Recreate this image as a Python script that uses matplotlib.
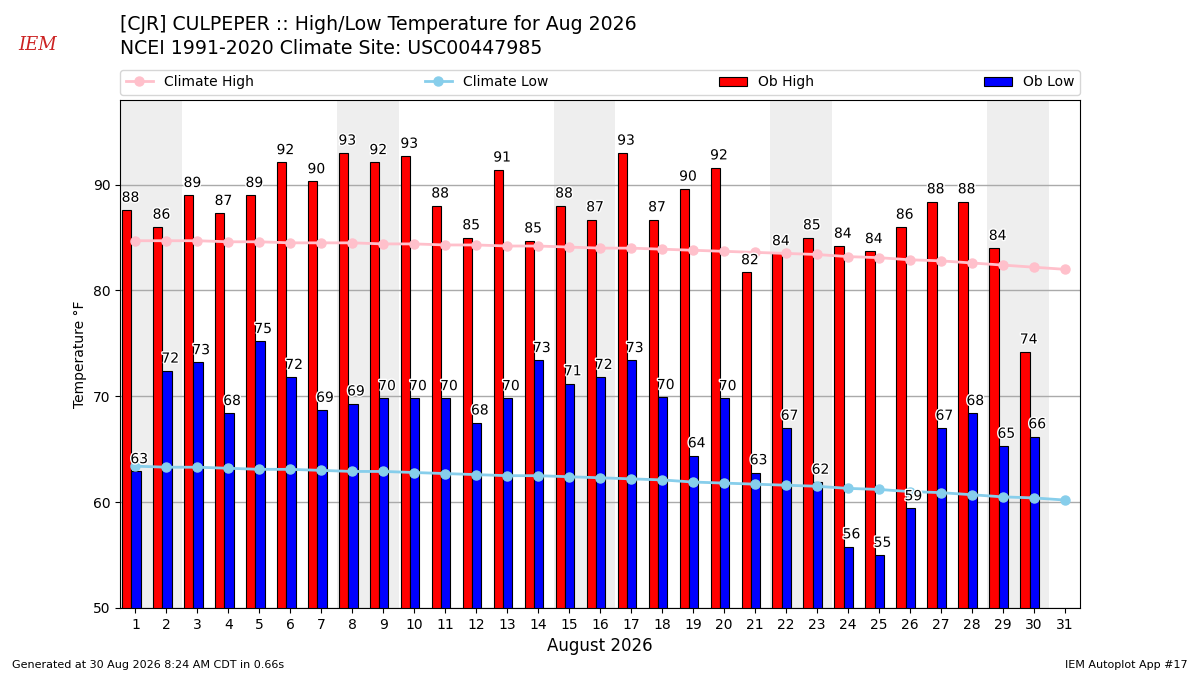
import matplotlib

matplotlib.use("Agg")
import matplotlib.pyplot as plt
import matplotlib.patheffects as pe
import numpy as np

days = np.arange(1, 32)
ob_days = np.arange(1, 31)

ob_high = [87.6, 86.0, 89.0, 87.3, 89.0, 92.1, 90.3, 93.0, 92.1, 92.7,
           88.0, 85.0, 91.4, 84.7, 88.0, 86.7, 93.0, 86.7, 89.6, 91.6,
           81.7, 83.5, 85.0, 84.2, 83.7, 86.0, 88.4, 88.4, 84.0, 74.2]
ob_low = [62.9, 72.4, 73.2, 68.4, 75.2, 71.8, 68.7, 69.3, 69.8, 69.8,
          69.8, 67.5, 69.8, 73.4, 71.2, 71.8, 73.4, 69.9, 64.4, 69.8,
          62.8, 67.0, 61.9, 55.8, 55.0, 59.4, 67.0, 68.4, 65.3, 66.2]
climate_high = [84.7, 84.7, 84.7, 84.6, 84.6, 84.5, 84.5, 84.5, 84.4, 84.4,
                84.3, 84.3, 84.2, 84.2, 84.1, 84.0, 84.0, 83.9, 83.8, 83.7,
                83.6, 83.5, 83.4, 83.2, 83.1, 82.9, 82.8, 82.6, 82.4, 82.2, 82.0]
climate_low = [63.4, 63.3, 63.3, 63.2, 63.1, 63.1, 63.0, 62.9, 62.9, 62.8,
               62.7, 62.6, 62.5, 62.5, 62.4, 62.3, 62.2, 62.1, 61.9, 61.8,
               61.7, 61.6, 61.5, 61.3, 61.2, 61.0, 60.9, 60.7, 60.5, 60.4, 60.2]
saturdays = [1, 8, 15, 22, 29]

fig = plt.figure(figsize=(12, 6.75), dpi=100)
ax = fig.add_axes([0.1, 0.0993, 0.8, 0.7526])

for d in saturdays:
    ax.axvspan(d - 0.5, d + 1.5, color="#EEEEEE", zorder=0, lw=0)

ax.plot(days, climate_high, color="pink", marker="o", ms=6.5, lw=2,
        zorder=3, label="Climate High")
ax.plot(days, climate_low, color="skyblue", marker="o", ms=6.5, lw=2,
        zorder=3, label="Climate Low")

ax.bar(ob_days - 0.43, ob_high, width=0.3, align="edge", color="red",
       edgecolor="black", lw=0.8, zorder=2, label="Ob High")
ax.bar(ob_days - 0.13, ob_low, width=0.3, align="edge", color="blue",
       edgecolor="black", lw=0.8, zorder=2, label="Ob Low")

halo = [pe.withStroke(linewidth=2, foreground="white")]
for d, v in zip(ob_days, ob_high):
    ax.text(d - 0.16, v + 0.5, f"{v:.0f}", ha="center", va="bottom",
            fontsize=10, zorder=4, path_effects=halo)
for d, v in zip(ob_days, ob_low):
    ax.text(d + 0.12, v + 0.5, f"{v:.0f}", ha="center", va="bottom",
            fontsize=10, zorder=4, path_effects=halo)

ax.set_xlim(0.5, 31.5)
ax.set_ylim(50, 98)
ax.set_xticks(days)
ax.set_yticks([50, 60, 70, 80, 90])
ax.tick_params(labelsize=10)
ax.set_axisbelow(True)
ax.grid(axis="y", color="#aaaaaa", lw=1, zorder=1)
ax.set_ylabel("Temperature °F", fontsize=10)
ax.set_xlabel("August 2026", fontsize=12)

handles, labels = ax.get_legend_handles_labels()
ax.legend(handles, labels, loc="lower left",
          bbox_to_anchor=(0, 1.01, 1, 0.05), mode="expand",
          ncol=4, fontsize=10, borderaxespad=0)

fig.text(0.1, 0.978, "[CJR] CULPEPER :: High/Low Temperature for Aug 2026",
         fontsize=13.6, va="top")
fig.text(0.1, 0.942, "NCEI 1991-2020 Climate Site: USC00447985",
         fontsize=13.6, va="top")
fig.text(0.031, 0.933, "IEM", color="#cc2222", fontsize=13, family="serif",
         style="italic", ha="center", va="center")

fig.text(0.01, 0.01, "Generated at 30 Aug 2026 8:24 AM CDT in 0.66s",
         fontsize=8)
fig.text(0.99, 0.01, "IEM Autoplot App #17", fontsize=8, ha="right")

fig.savefig("out.png", dpi=100)
